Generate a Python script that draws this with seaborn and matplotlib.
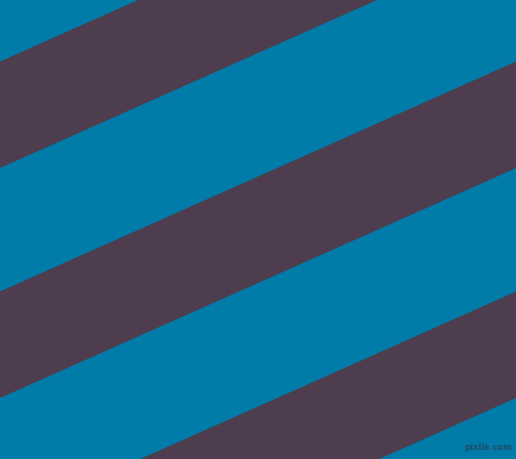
import numpy as np
import pandas as pd
import seaborn as sns
import matplotlib
matplotlib.use('Agg')
import matplotlib.pyplot as plt

# stripe data: where each band starts/ends on the left edge (pixels from top)
band_start = [-167, -60.5, 63, 169.5, 293, 399.5, 523, 629.5]
band_end = [-60.5, 63, 169.5, 293, 399.5, 523, 629.5, 753]
band_color = ['#4e3d4f', '#017ba7', '#4e3d4f', '#017ba7',
              '#4e3d4f', '#017ba7', '#4e3d4f', '#017ba7']
slope = 0.4457   # stripes rise this much per pixel to the right
width, height = 516, 460

sns.set_theme(style='white')

bands = pd.DataFrame({'start': band_start, 'end': band_end, 'color': band_color})

fig = plt.figure(figsize=(5.16, 4.6), dpi=100, facecolor='#017ba7')
ax = fig.add_axes([0, 0, 1, 1])
x = np.array([-10, width + 10])
for _, b in bands.iterrows():
    # thin edge in the same colour hides the antialiasing seams
    ax.fill_between(x, b['start'] - slope * x, b['end'] - slope * x,
                    color=b['color'], edgecolor=b['color'], linewidth=0.6)

ax.text(488, 448, 'pixlis.com', fontsize=6, color='#1f4c6b',
        ha='center', va='center', fontweight='bold')

ax.set_xlim(0, width)
ax.set_ylim(height, 0)
ax.axis('off')
fig.savefig('out.png', dpi=100, facecolor=fig.get_facecolor())
